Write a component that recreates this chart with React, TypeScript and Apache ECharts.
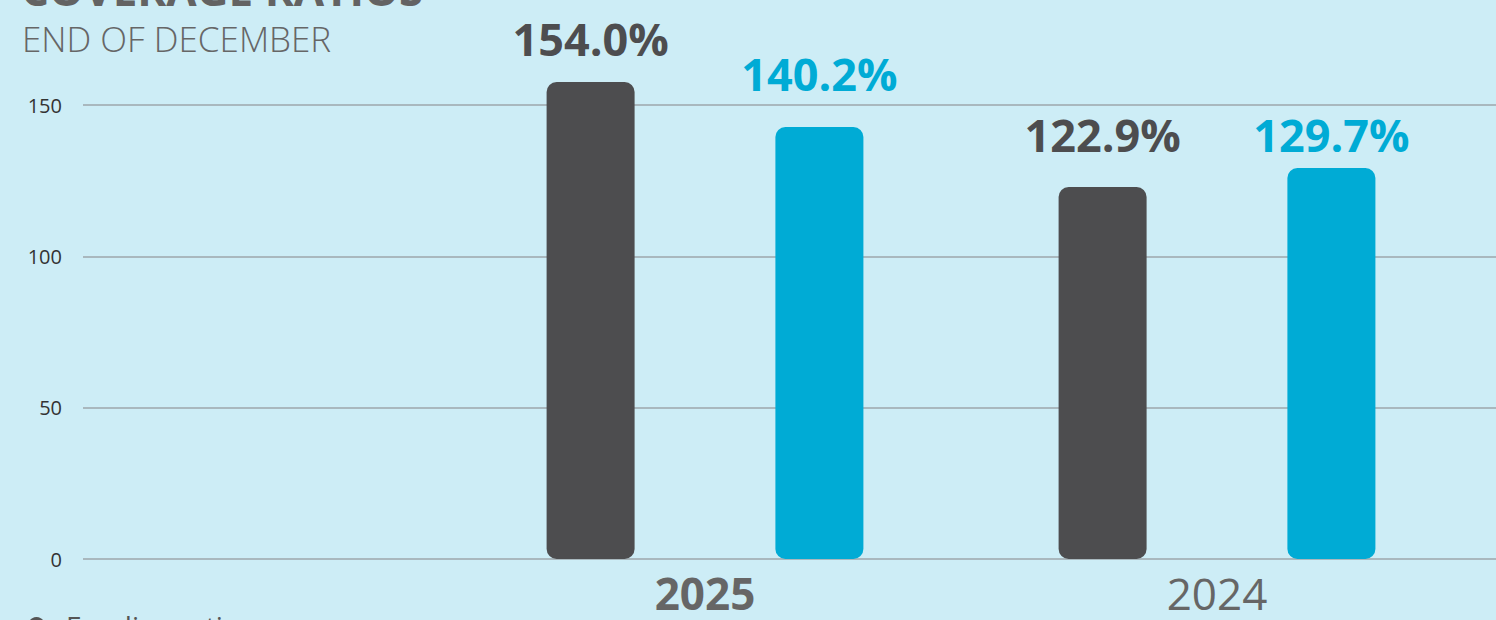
import React, { useEffect, useRef } from "react";
import * as echarts from "echarts";

const titleText = "COVERAGE RATIOS";
const subtitleText = "END OF DECEMBER";
const legendName = "Funding ratio";
const categories = ["2025", "2024"];
const boldCategory = "2025";
// bar heights (percent)
const fundingValues = [157.6, 122.9];
const coverageValues = [142.7, 129.2];
// value labels as printed in the picture
const fundingLabels = ["154.0%", "122.9%"];
const coverageLabels = ["140.2%", "129.7%"];
const yMin = 0;
const yMax = 150;
const yInterval = 50;

const DARK = "#4d4d4f";
const BLUE = "#00abd5";
const BG = "#cdedf6";
const FONT = "'Open Sans', 'Noto Sans', sans-serif";

const fundingLabelDist = [21, 30];
const coverageLabelDist = [31, 11];

export default function App() {
  const ref = useRef<HTMLDivElement>(null);
  useEffect(() => {
    if (!ref.current) return;
    const chart = echarts.init(ref.current, null, { renderer: "svg" });
    const labelFont = {
      fontFamily: FONT,
      fontSize: 45,
      fontWeight: "bold" as const,
    };
    chart.setOption({
      animation: false,
      backgroundColor: BG,
      textStyle: { fontFamily: FONT },
      title: [
        {
          text: titleText,
          left: 21,
          top: 7,
          padding: 0,
          textStyle: { fontFamily: FONT, fontSize: 44, fontWeight: "bold", color: "#636363" },
        },
        {
          text: subtitleText,
          left: 22,
          top: 61,
          padding: 0,
          textStyle: { fontFamily: FONT, fontSize: 35, fontWeight: 300, color: "#666666" },
        },
      ],
      graphic: [
        {
          type: "circle",
          shape: { cx: 36.5, cy: 665.5, r: 8.5 },
          style: { fill: "#555555" },
        },
        {
          type: "text",
          x: 66,
          y: 666,
          style: {
            text: legendName,
            fill: "#555555",
            font: `28px ${FONT}`,
            verticalAlign: "middle",
          },
        },
      ],
      grid: [
        { left: 83, right: 0, top: 145, bottom: 121 },
        { left: 449, right: 23, top: 145, bottom: 121 },
      ],
      xAxis: [
        { type: "value", gridIndex: 0, show: false, min: 0, max: 1 },
        {
          type: "category",
          gridIndex: 1,
          data: categories.map((c) => ({
            value: c,
            textStyle: { fontWeight: c === boldCategory ? "bold" : "normal" },
          })),
          axisLine: { show: false },
          axisTick: { show: false },
          axisLabel: { fontFamily: FONT, fontSize: 44, color: "#666666", margin: 12 },
        },
      ],
      yAxis: [
        {
          type: "value",
          gridIndex: 0,
          min: yMin,
          max: yMax,
          interval: yInterval,
          axisLine: { show: false },
          axisTick: { show: false },
          axisLabel: { fontFamily: FONT, fontSize: 20, color: "#333333", margin: 21 },
          splitLine: { lineStyle: { color: "#9ca6ab", width: 1.5 } },
        },
        { type: "value", gridIndex: 1, min: yMin, max: yMax, interval: yInterval, show: false },
      ],
      series: [
        {
          name: legendName,
          type: "bar",
          xAxisIndex: 1,
          yAxisIndex: 1,
          barWidth: 88,
          barGap: "160%",
          clip: false,
          itemStyle: { color: DARK, borderRadius: 10 },
          data: fundingValues.map((v, i) => ({
            value: v,
            label: {
              show: true,
              position: "top",
              distance: fundingLabelDist[i],
              formatter: () => fundingLabels[i],
              color: DARK,
              ...labelFont,
            },
          })),
        },
        {
          name: "coverage",
          type: "bar",
          xAxisIndex: 1,
          yAxisIndex: 1,
          barWidth: 88,
          barGap: "160%",
          clip: false,
          itemStyle: { color: BLUE, borderRadius: 10 },
          data: coverageValues.map((v, i) => ({
            value: v,
            label: {
              show: true,
              position: "top",
              distance: coverageLabelDist[i],
              formatter: () => coverageLabels[i],
              color: BLUE,
              ...labelFont,
            },
          })),
        },
      ],
    });
    return () => chart.dispose();
  }, []);
  return (
    <div
      style={{
        position: "fixed",
        left: 0,
        top: 0,
        width: 1496,
        height: 620,
        overflow: "hidden",
        background: BG,
      }}
    >
      <div
        ref={ref}
        style={{ position: "absolute", left: 0, top: -40, width: 1496, height: 720 }}
      />
    </div>
  );
}
